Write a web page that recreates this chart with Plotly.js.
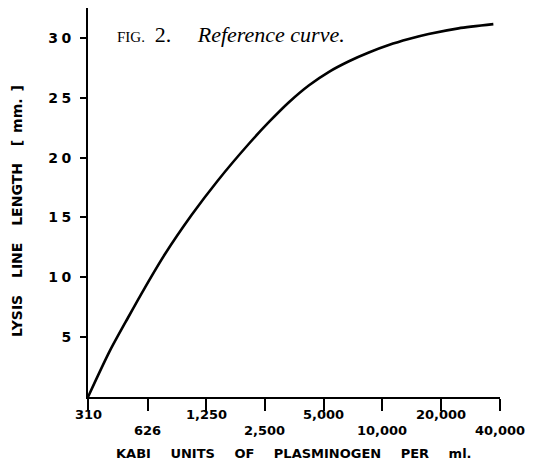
<!DOCTYPE html>
<html>
<head>
<meta charset="utf-8">
<script src="https://cdn.plot.ly/plotly-3.0.1.min.js"></script>
<style>
  html, body { margin: 0; padding: 0; background: #fff; }
  #chart { width: 533px; height: 462px; }
</style>
</head>
<body>
<div id="chart"></div>
<script>
// Data
const units = [310, 401, 496, 605, 766, 1052, 1428, 2079, 2630, 3327, 4207, 5323, 6733, 8515, 10773, 13625, 17230, 24510, 36980];
const lysisLength = [0, 3.85, 6.60, 9.10, 11.90, 15.20, 18.05, 21.20, 23.00, 24.65, 26.05, 27.17, 28.05, 28.78, 29.40, 29.90, 30.32, 30.80, 31.15];

const xTickVals = [310, 626, 1250, 2500, 5000, 10000, 20000, 40000];
const xTickLabels = ["310", "626", "1,250", "2,500", "5,000", "10,000", "20,000", "40,000"];
const yTickVals = [5, 10, 15, 20, 25, 30];
const yTickLabels = ["5", "1\u20050", "1\u20055", "2\u20050", "2\u20055", "3\u20050"];

const sansBold = "DejaVu Sans, sans-serif";
const serif = "Liberation Serif, Times New Roman, serif";

const trace = {
  x: units,
  y: lysisLength,
  mode: "lines",
  type: "scatter",
  line: { color: "#000", width: 2.6, shape: "spline", smoothing: 0.7 },
  hoverinfo: "skip"
};

// Staggered x tick labels (two rows)
const tickAnnotations = xTickVals.map((v, i) => ({
  x: Math.log10(v),
  xref: "x",
  y: 0,
  yref: "paper",
  yanchor: "middle",
  xanchor: "center",
  yshift: i % 2 === 0 ? -17 : -33,
  text: "<b>" + xTickLabels[i] + "</b>",
  showarrow: false,
  font: { family: sansBold, size: 13, color: "#000" }
}));

const layout = {
  width: 533,
  height: 462,
  margin: { l: 88, r: 33, t: 8, b: 65 },
  paper_bgcolor: "#fff",
  plot_bgcolor: "#fff",
  showlegend: false,
  xaxis: {
    type: "log",
    range: [Math.log10(310), Math.log10(40000)],
    tickmode: "array",
    tickvals: xTickVals,
    showticklabels: false,
    ticks: "outside",
    ticklen: 12,
    tickwidth: 2,
    tickcolor: "#000",
    showline: true,
    linecolor: "#000",
    linewidth: 2,
    showgrid: false,
    zeroline: false
  },
  yaxis: {
    range: [0, 32.5],
    tickmode: "array",
    tickvals: yTickVals,
    ticktext: yTickLabels.map(t => "<b>" + t + "</b>"),
    ticks: "outside",
    ticklen: 6,
    tickwidth: 2,
    tickcolor: "#000",
    ticklabelstandoff: 6,
    tickfont: { family: sansBold, size: 14, color: "#000" },
    showline: true,
    linecolor: "#000",
    linewidth: 2,
    showgrid: false,
    zeroline: false
  },
  annotations: tickAnnotations.concat([
    {
      x: 0.5, xref: "paper", y: 0, yref: "paper",
      xanchor: "center", yanchor: "middle", yshift: -56,
      text: "<b>KABI\u2003\u2002UNITS\u2003\u2002OF\u2003\u2002PLASMINOGEN\u2003\u2002PER\u2003\u2002ml.</b>",
      showarrow: false,
      font: { family: sansBold, size: 13, color: "#000" }
    },
    {
      x: 0, xref: "paper", y: 0.478, yref: "paper",
      xanchor: "center", yanchor: "middle", xshift: -71,
      textangle: -90,
      text: "<b>LYSIS\u2003\u2009LINE\u2003\u2009LENGTH\u2003\u2009[\u2002mm.\u2002]</b>",
      showarrow: false,
      font: { family: sansBold, size: 14, color: "#000" }
    },
    {
      x: (115 - 88) / 412, xref: "paper", y: 1, yref: "paper",
      xanchor: "left", yanchor: "middle", yshift: -26,
      text: "<span style='font-size:15px'>FIG.</span>\u2009 2.\u2003\u2009<i>Reference curve.</i>",
      showarrow: false,
      font: { family: serif, size: 22, color: "#000" }
    }
  ])
};

Plotly.newPlot("chart", [trace], layout, { staticPlot: true, displayModeBar: false });
</script>
</body>
</html>
